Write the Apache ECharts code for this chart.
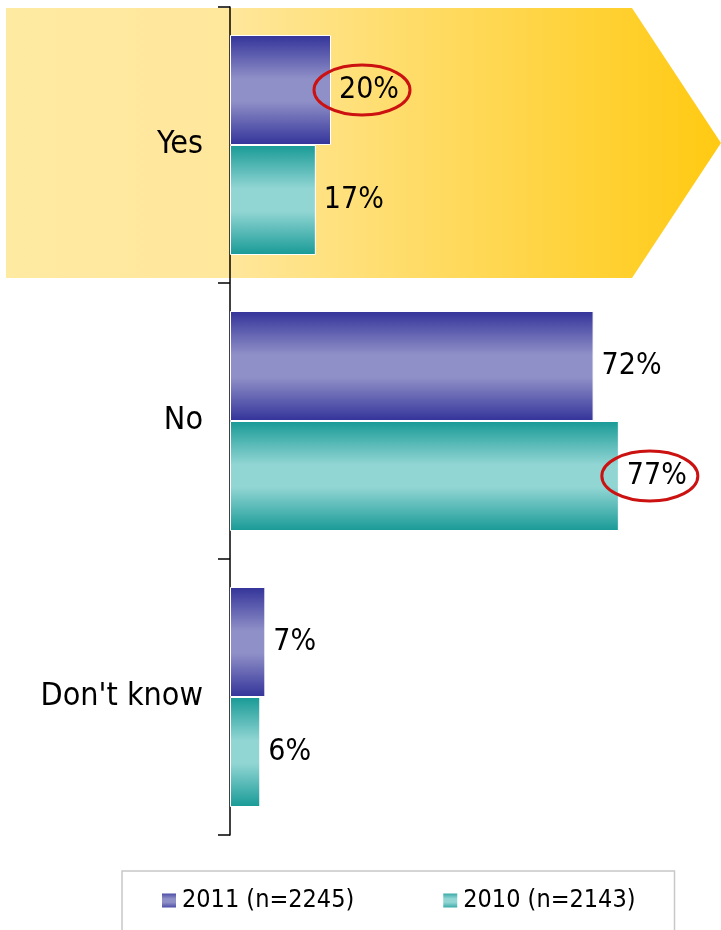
<!DOCTYPE html>
<html>
<head>
<meta charset="utf-8">
<script src="https://cdn.jsdelivr.net/npm/echarts@6/dist/echarts.min.js"></script>
<style>html,body{margin:0;padding:0;background:#fff}#c{width:721px;height:930px}</style>
</head>
<body>
<div id="c"></div>
<script>
var categories = ["Yes", "No", "Don't know"];
var seriesNames = ["2011 (n=2245)", "2010 (n=2143)"];
var values2011 = [20, 72, 7];
var values2010 = [17, 77, 6];
var highlighted = [{series: 0, category: "Yes"}, {series: 1, category: "No"}];

var FONT = '"Liberation Sans Narrow", "DejaVu Sans Condensed", "Arial Narrow", sans-serif';
function grad(edge, mid) {
  return new echarts.graphic.LinearGradient(0, 0, 0, 1, [
    {offset: 0, color: edge}, {offset: 0.4, color: mid}, {offset: 0.6, color: mid}, {offset: 1, color: edge}
  ]);
}
var chart = echarts.init(document.getElementById('c'), null, {renderer: 'canvas'});
var BW = 110;
var option = {
  animation: false,
  grid: {left: 230, top: 7, height: 828, width: 505, containLabel: false, outerBoundsMode: 'none'},
  xAxis: {type: 'value', min: 0, max: 100, show: false},
  yAxis: {
    type: 'category', data: categories, inverse: true,
    axisLine: {show: true, lineStyle: {color: '#000', width: 1.5}},
    axisTick: {show: true, length: 12, lineStyle: {color: '#000', width: 1.5}},
    axisLabel: {color: '#000', fontSize: 32, fontFamily: FONT, margin: 27},
    splitLine: {show: false}
  },
  legend: {
    left: 122, top: 871, orient: 'horizontal', itemWidth: 16, itemHeight: 16, icon: 'rect',
    itemGap: 87, padding: [17, 39, 21, 38],
    borderColor: '#c8c8c8', borderWidth: 1.5,
    textStyle: {fontSize: 25, fontFamily: FONT, color: '#000'},
    data: seriesNames
  },
  series: [
    {name: seriesNames[0], type: 'bar', data: values2011, barWidth: BW, barGap: '0%',
     itemStyle: {color: grad('#33339A', '#9090C8'), borderColor: '#fff', borderWidth: 1},
     label: {show: true, position: 'right', distance: 8, formatter: '{c}%', fontSize: 30, fontFamily: FONT, color: '#000'}},
    {name: seriesNames[1], type: 'bar', data: values2010, barWidth: BW, barGap: '0%',
     itemStyle: {color: grad('#189A96', '#92D6D4'), borderColor: '#fff', borderWidth: 1},
     label: {show: true, position: 'right', distance: 8, formatter: '{c}%', fontSize: 30, fontFamily: FONT, color: '#000'}}
  ]
};
chart.setOption(option);

function drawExtras() {
  var top = chart.convertToPixel({gridIndex: 0}, [0, categories[0]]);
  var band = chart.convertToPixel({gridIndex: 0}, [0, categories[1]])[1] - top[1];
  var yTop = top[1] - band / 2 + 1, yBot = top[1] + band / 2 - 5;
  var W = chart.getWidth();
  var els = [{
    type: 'polygon', z: -10, silent: true,
    shape: {points: [[6, yTop], [632, yTop], [W, (yTop + yBot) / 2], [632, yBot], [6, yBot]]},
    style: {fill: new echarts.graphic.LinearGradient(0, 0, 1, 0, [
      {offset: 0, color: '#FFEAA2'}, {offset: 0.31, color: '#FFE79C'}, {offset: 1, color: '#FFCA12'}
    ])}
  }];
  var sets = [values2011, values2010];
  highlighted.forEach(function (h) {
    var ci = categories.indexOf(h.category);
    var p = chart.convertToPixel({gridIndex: 0}, [sets[h.series][ci], h.category]);
    var cy = p[1] + (h.series === 0 ? -BW / 2 : BW / 2);
    els.push({type: 'ellipse', z: 10, silent: true,
      shape: {cx: p[0] + 31, cy: cy, rx: 48, ry: 25},
      style: {fill: 'none', stroke: '#CC1111', lineWidth: 3}});
  });
  chart.setOption({graphic: els});
}
drawExtras();
</script>
</body>
</html>
